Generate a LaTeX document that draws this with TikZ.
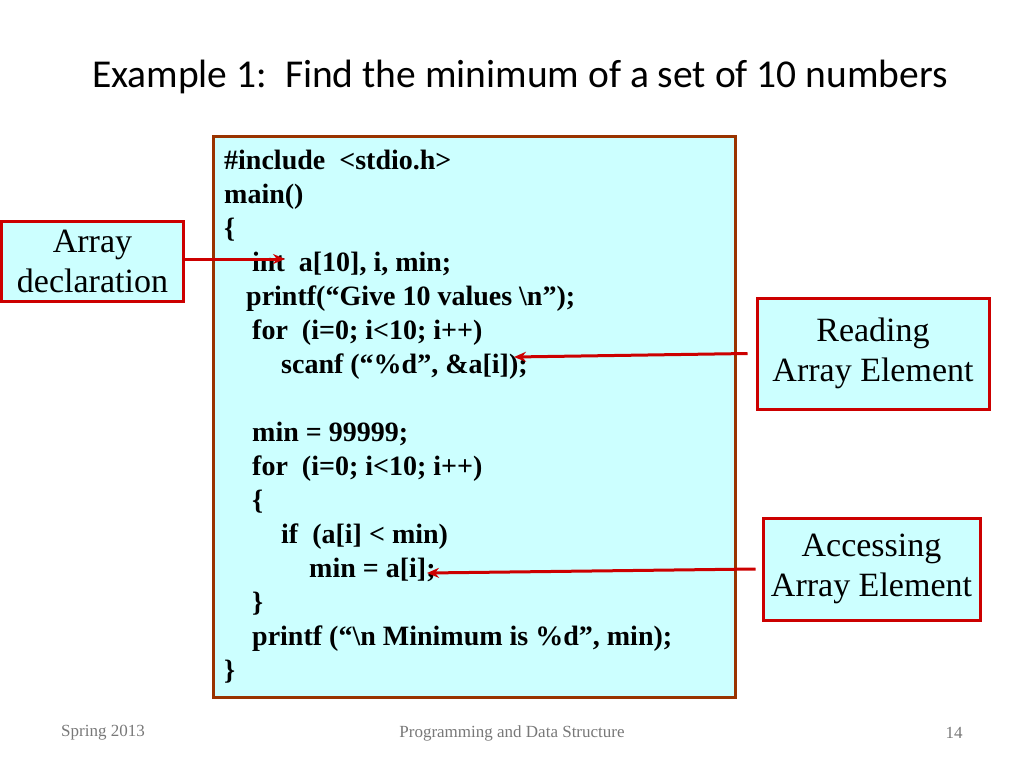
\documentclass[tikz,border=0pt]{standalone}
\usepackage{fontspec}
\setmainfont{Liberation Serif}
\newfontfamily\titlefont{Carlito}
\usetikzlibrary{positioning,arrows.meta}
\definecolor{codebg}{RGB}{204,255,255}
\definecolor{codeedge}{RGB}{153,51,0}
\definecolor{tagred}{RGB}{204,0,0}
\definecolor{footgray}{RGB}{120,120,120}
\begin{document}
\begin{tikzpicture}[x=1pt,y=-1pt,
    code/.style = {anchor=base west, inner sep=0pt, font=\fontsize{28}{28}\selectfont\bfseries},
    tag/.style = {draw=tagred, line width=3pt, fill=codebg, align=center, font=\fontsize{34}{40}\selectfont},
    foot/.style = {text=footgray, font=\fontsize{17}{17}\selectfont},
    pointer/.style = {-{Stealth[length=12pt,width=10pt]}, draw=tagred, line width=3pt}]
    \useasboundingbox (0,0) rectangle (1024,768);
    \node[font=\titlefont\fontsize{39.5}{40}\selectfont] (title) at (520,77) {Example 1:\ \ Find the minimum of a set of 10 numbers};
    % code box
    \draw[codeedge, line width=3pt, fill=codebg] (213,136) rectangle (735,697);
    \node[code] (l1) at (224,169) {\#include \ <stdio.h>};
    \node[code] (l2) at (224,203) {main()};
    \node[code] (l3) at (224,237) {\{};
    \node[code] (l4) at (252,271) {int \ a[10], i, min;};
    \node[code] (l5) at (246,305) {printf(“Give 10 values \textbackslash n”);};
    \node[code] (l6) at (252,339) {for \ (i=0; i<10; i++)};
    \node[code] (l7) at (281,373) {scanf (“\%d”, \&a[i]);};
    \node[code] (l8) at (252,441) {min = 99999;};
    \node[code] (l9) at (252,475) {for \ (i=0; i<10; i++)};
    \node[code] (l10) at (252,509) {\{};
    \node[code] (l11) at (281,543) {if \ (a[i] < min)};
    \node[code] (l12) at (309,577) {min = a[i];};
    \node[code] (l13) at (252,611) {\}};
    \node[code] (l14) at (252,645) {printf (“\textbackslash n Minimum is \%d”, min);};
    \node[code] (l15) at (224,679) {\}};
    % labels
    \node[tag, minimum width=182pt, minimum height=80pt] (decl) at (92.5,261) {Array\\declaration};
    \node[tag, minimum width=232pt, minimum height=111pt] (read) at (873,353.5) {Reading\\Array Element};
    \node[tag, minimum width=217pt, minimum height=102pt] (access) at (871.5,569) {Accessing\\Array Element};
    \coordinate (declTip) at (285,259);
    \coordinate (readTip) at (514,357);
    \coordinate (accessTip) at (427,573);
    \draw[pointer] (decl.east |- declTip) -- (declTip);
    \draw[pointer] (read.west) ++(-8,0) -- (readTip);
    \draw[pointer] (access.west) ++(-6,0) -- (accessTip);
    % footer
    \node[foot] (f1) at (103,733) {Spring 2013};
    \node[foot] (f2) at (512,733) {Programming and Data Structure};
    \node[foot] (f3) at (954,733) {14};
\end{tikzpicture}
\end{document}
